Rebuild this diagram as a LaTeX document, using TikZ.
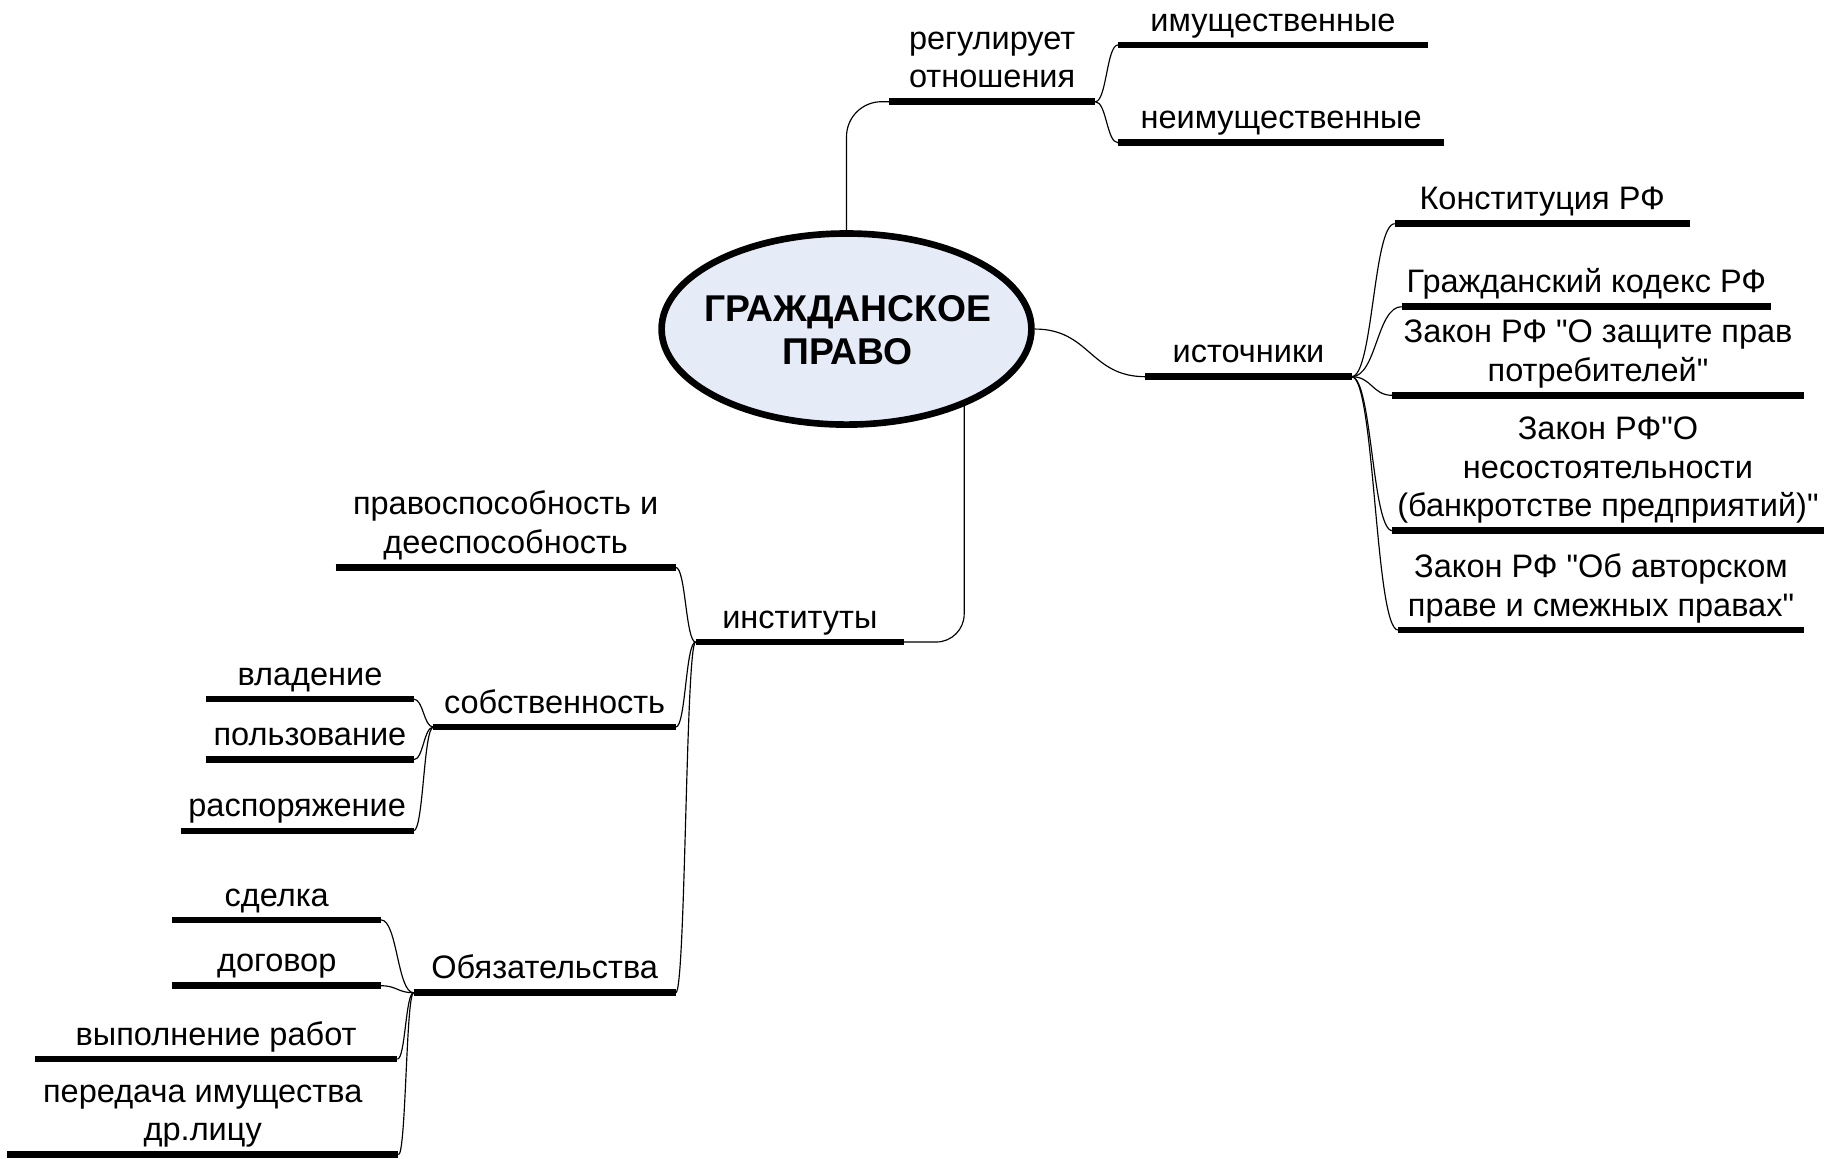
\documentclass[tikz,border=0pt]{standalone}
\usepackage{fontspec}
\setmainfont[Ligatures=TeXOff]{Liberation Sans}
\usetikzlibrary{calc,shapes.geometric}
\pgfdeclarelayer{bg}
\pgfsetlayers{bg,main}
\definecolor{ellfill}{HTML}{E6ECF7}
\tikzset{
  barline/.style={line width=2.8pt, line cap=butt, black},
  itemtext/.style={anchor=south, inner sep=0pt, text depth=0pt, align=center,
    font=\fontsize{13.95pt}{16.6pt}\selectfont},
  conn/.style={line width=0.5pt, black},
  link/.style={to path={let \p1=(\tikztostart), \p2=(\tikztotarget),
    \p3=($(\tikztostart)!0.5!(\tikztotarget)$) in
    .. controls (\x3,\y1) and (\x3,\y2) .. (\tikztotarget)}},
  centre/.style={ellipse, draw, line width=2.85pt, fill=ellfill,
    minimum width=158.7pt, minimum height=82pt, inner sep=0pt},
  titletext/.style={inner sep=0pt, align=center,
    font=\fontsize{16pt}{18.5pt}\selectfont\bfseries}
}
\newcommand\mmitem[5]{%
  \draw[barline] (#2,#4) coordinate (#1-l) -- (#3,#4) coordinate (#1-r);
  \node[itemtext] (#1) at ({(#2+#3)/2},{#4-11.5}) {#5};
}
\begin{document}
\begin{tikzpicture}[x=0.5pt,y=-0.5pt]
\useasboundingbox (0,0) rectangle (1568,994);
\node[centre] (c) at (726.5,282.4) {};
\node[titletext] (title) at (727.5,283.5) {ГРАЖДАНСКОЕ\\ПРАВО};
% top
\mmitem{reg}{763}{940}{87.3}{регулирует\\отношения}
\mmitem{imu}{959.5}{1225.5}{38.6}{имущественные}
\mmitem{neimu}{959.5}{1239.5}{122.5}{неимущественные}
% right
\mmitem{ist}{983}{1160}{323.3}{источники}
\mmitem{konst}{1197}{1450}{192}{Конституция РФ}
\mmitem{gk}{1203}{1520}{263.2}{Гражданский кодекс РФ}
\mmitem{zpp}{1195}{1548}{339.3}{Закон РФ "О защите прав\\потребителей"}
\mmitem{nes}{1195}{1565}{455.5}{Закон РФ"О\\несостоятельности\\(банкротстве предприятий)"}
\mmitem{avt}{1200}{1548}{540.8}{Закон РФ "Об авторском\\праве и смежных правах"}
% left
\mmitem{inst}{597}{776}{551}{институты}
\mmitem{prav}{288}{580}{487}{правоспособность и\\дееспособность}
\mmitem{sob}{372}{580}{624}{собственность}
\mmitem{vlad}{177}{355}{600}{владение}
\mmitem{polz}{177}{355}{652}{пользование}
\mmitem{rasp}{155}{355}{713}{распоряжение}
\mmitem{obz}{355}{580}{852}{Обязательства}
\mmitem{sdel}{148}{327}{789.5}{сделка}
\mmitem{dog}{148}{327}{846}{договор}
\mmitem{vyp}{30}{341}{909}{выполнение работ}
\mmitem{per}{6}{342}{991}{передача имущества\\др.лицу}
\begin{pgfonlayer}{bg}
  \draw[conn, rounded corners=15pt] (c.center) |- (reg-l);
  \draw[conn, rounded corners=12pt] ($(c.center)+(101,0)$) |- (inst-r);
  \draw[conn] (c.east) to[link] (ist-l);
  \foreach \t in {imu,neimu} \draw[conn] (reg-r) to[link] (\t-l);
  \foreach \t in {konst,gk,zpp,nes,avt} \draw[conn] (ist-r) to[link] (\t-l);
  \foreach \t in {prav,sob,obz} \draw[conn] (inst-l) to[link] (\t-r);
  \foreach \t in {vlad,polz,rasp} \draw[conn] (sob-l) to[link] (\t-r);
  \foreach \t in {sdel,dog,vyp,per} \draw[conn] (obz-l) to[link] (\t-r);
\end{pgfonlayer}
\end{tikzpicture}
\end{document}
